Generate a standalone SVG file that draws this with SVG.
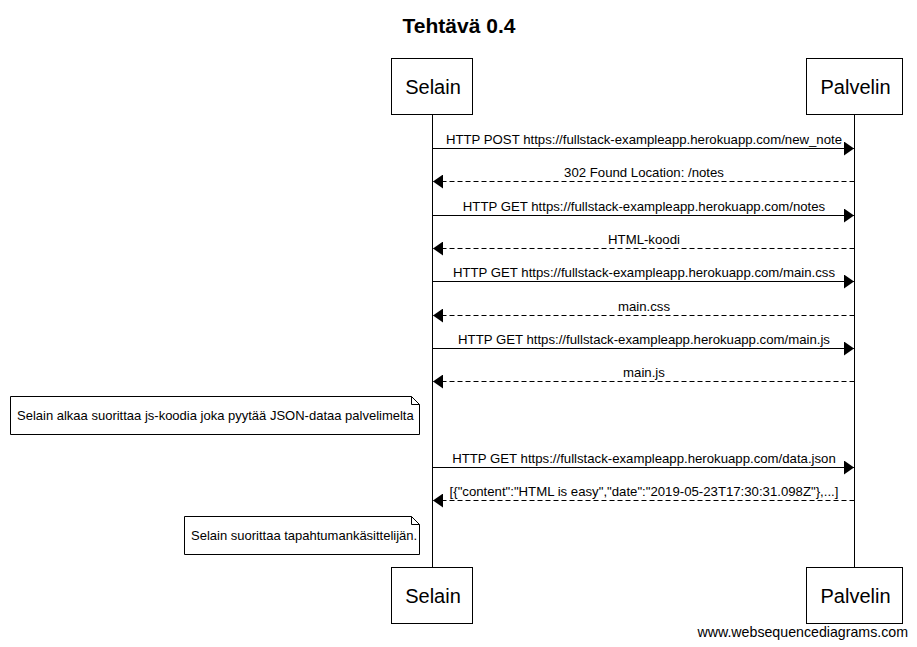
<svg xmlns="http://www.w3.org/2000/svg" width="917" height="647" viewBox="0 0 917 647">
<style>
text{font-family:"Liberation Sans",Arial,sans-serif;fill:#000}
.actor rect{fill:#fff;stroke:#000;stroke-width:1}
.actor text{font-size:20px;text-anchor:middle}
.life{stroke:#000;stroke-width:1}
.msg{stroke:#000;stroke-width:1;fill:none}
.ret{stroke-dasharray:5,3}
.lbl{font-size:13.2px;text-anchor:middle}
.note path{fill:#fff;stroke:#000;stroke-width:1}
.note text{font-size:13px}
</style>
<defs>
<marker id="ah" markerWidth="10" markerHeight="14" refX="10" refY="7" orient="auto" markerUnits="userSpaceOnUse">
<path d="M0,0 L10,7 L0,14 Z" fill="#000"/>
</marker>
</defs>
<rect width="917" height="647" fill="#fff"/>
<text x="459" y="33" style="font-size:21px;font-weight:bold" text-anchor="middle">Tehtävä 0.4</text>
<g id="lifelines">
<line class="life" x1="432.5" y1="115" x2="432.5" y2="567"/>
<line class="life" x1="854.5" y1="115" x2="854.5" y2="567"/>
</g>
<g id="selain-top" class="actor"><rect x="391.5" y="58.5" width="81" height="56"/><text x="433" y="94">Selain</text></g>
<g id="palvelin-top" class="actor"><rect x="806.5" y="58.5" width="96" height="56"/><text x="855.5" y="94">Palvelin</text></g>
<g id="selain-bottom" class="actor"><rect x="391.5" y="567.5" width="81" height="56"/><text x="433" y="603">Selain</text></g>
<g id="palvelin-bottom" class="actor"><rect x="806.5" y="567.5" width="96" height="56"/><text x="855.5" y="603">Palvelin</text></g>
<g id="connectors">
<line class="msg" x1="432.5" y1="148.5" x2="854" y2="148.5" marker-end="url(#ah)"/>
<text class="lbl" x="644" y="144">HTTP POST https://fullstack-exampleapp.herokuapp.com/new_note</text>
<line class="msg ret" x1="854.5" y1="181.5" x2="433" y2="181.5" marker-end="url(#ah)"/>
<text class="lbl" x="644" y="177">302 Found Location: /notes</text>
<line class="msg" x1="432.5" y1="215.5" x2="854" y2="215.5" marker-end="url(#ah)"/>
<text class="lbl" x="644" y="211">HTTP GET https://fullstack-exampleapp.herokuapp.com/notes</text>
<line class="msg ret" x1="854.5" y1="248.5" x2="433" y2="248.5" marker-end="url(#ah)"/>
<text class="lbl" x="644" y="244">HTML-koodi</text>
<line class="msg" x1="432.5" y1="281.5" x2="854" y2="281.5" marker-end="url(#ah)"/>
<text class="lbl" x="644" y="277">HTTP GET https://fullstack-exampleapp.herokuapp.com/main.css</text>
<line class="msg ret" x1="854.5" y1="315.5" x2="433" y2="315.5" marker-end="url(#ah)"/>
<text class="lbl" x="644" y="311">main.css</text>
<line class="msg" x1="432.5" y1="348.5" x2="854" y2="348.5" marker-end="url(#ah)"/>
<text class="lbl" x="644" y="344">HTTP GET https://fullstack-exampleapp.herokuapp.com/main.js</text>
<line class="msg ret" x1="854.5" y1="381.5" x2="433" y2="381.5" marker-end="url(#ah)"/>
<text class="lbl" x="644" y="377">main.js</text>
<line class="msg" x1="432.5" y1="467.5" x2="854" y2="467.5" marker-end="url(#ah)"/>
<text class="lbl" x="644" y="463">HTTP GET https://fullstack-exampleapp.herokuapp.com/data.json</text>
<line class="msg ret" x1="854.5" y1="500.5" x2="433" y2="500.5" marker-end="url(#ah)"/>
<text class="lbl" x="644" y="496">[{"content":"HTML is easy","date":"2019-05-23T17:30:31.098Z"},...]</text>
</g>
<g id="note1" class="note">
<path d="M10.5,396.5 H411.5 L419.5,404.5 V434.5 H10.5 Z M411.5,396.5 V404.5 H419.5"/>
<text x="17" y="420">Selain alkaa suorittaa js-koodia joka pyytää JSON-dataa palvelimelta</text>
</g>
<g id="note2" class="note">
<path d="M184.5,516.5 H411.5 L419.5,524.5 V554.5 H184.5 Z M411.5,516.5 V524.5 H419.5"/>
<text x="191" y="540">Selain suorittaa tapahtumankäsittelijän.</text>
</g>
<text x="908" y="637" style="font-size:14.2px" text-anchor="end">www.websequencediagrams.com</text>
</svg>
